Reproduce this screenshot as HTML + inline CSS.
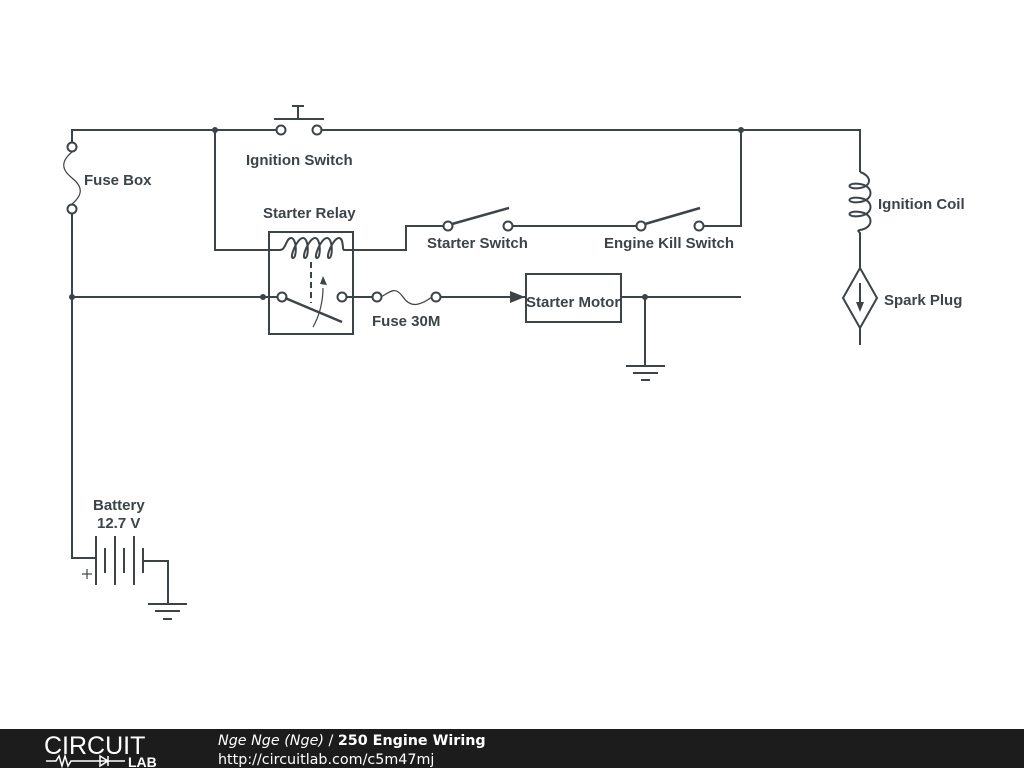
<!DOCTYPE html>
<html><head><meta charset="utf-8"><style>
html,body{margin:0;padding:0;background:#fff;}
svg{display:block;}
text{font-family:"Liberation Sans",sans-serif;font-weight:bold;fill:#3d4448;font-size:15px;}
</style></head><body>
<svg width="1024" height="768" viewBox="0 0 1024 768" xmlns="http://www.w3.org/2000/svg">
<g stroke="#3d4448" stroke-width="2" fill="none">
<polyline points="72,147 72,130 277,130"/>
<polyline points="321,130 860,130 860,172"/>
<circle cx="281" cy="130" r="4.5" fill="#fff"/><circle cx="317" cy="130" r="4.5" fill="#fff"/>
<line x1="274" y1="119" x2="324" y2="119"/><line x1="298" y1="106" x2="298" y2="119"/><line x1="292" y1="106" x2="304" y2="106"/>
<circle cx="72" cy="147" r="4.5" fill="#fff"/><circle cx="72" cy="209" r="4.5" fill="#fff"/>
<path d="M72,152 C60,162 62,170 72,178 C82,186 84,194 72,204" stroke-width="1.2"/>
<polyline points="72,214 72,558 95,558"/>
<polyline points="215,130 215,250 280,250"/>
<path d="M280,250 C286,250 286,238 291,238 C297,238 297,258 293,258 C289,258 297,238 303,238 C309,238 309,258 305,258 C301,258 309,238 315,238 C321,238 321,258 317,258 C313,258 321,238 327,238 C333,238 333,258 329,258 C325,258 333,238 339,238 C344,238 342,250 344,250"/>
<polyline points="344,250 406,250 406,226 444,226"/>
<circle cx="448" cy="226" r="4.5" fill="#fff"/><circle cx="508" cy="226" r="4.5" fill="#fff"/>
<line x1="452" y1="224" x2="509" y2="208" stroke-width="2.5"/>
<line x1="512" y1="226" x2="637" y2="226"/>
<circle cx="641" cy="226" r="4.5" fill="#fff"/><circle cx="699" cy="226" r="4.5" fill="#fff"/>
<line x1="645" y1="224" x2="700" y2="208" stroke-width="2.5"/>
<polyline points="703,226 741,226 741,130"/>
<rect x="269" y="232" width="84" height="102"/>
<line x1="311" y1="262" x2="311" y2="303" stroke-dasharray="6,4"/>
<line x1="72" y1="297" x2="278" y2="297"/>
<circle cx="282" cy="297" r="4.5" fill="#fff"/><circle cx="342" cy="297" r="4.5" fill="#fff"/>
<line x1="285" y1="298" x2="342" y2="322" stroke-width="2.5"/>
<path d="M313,327 C320,315 323,300 323,288" stroke-width="1.2"/>
<line x1="346" y1="297" x2="373" y2="297"/>
<circle cx="377" cy="297" r="4.5" fill="#fff"/><circle cx="436" cy="297" r="4.5" fill="#fff"/>
<path d="M381,297 C392,290 396,287 403,297 C410,307 418,307 432,297" stroke-width="1.2"/>
<line x1="440" y1="297" x2="526" y2="297"/>
<rect x="526" y="274" width="95" height="48"/>
<line x1="621" y1="297" x2="741" y2="297"/>
<polyline points="645,297 645,366"/>
<line x1="626" y1="366" x2="665" y2="366"/><line x1="633" y1="373" x2="658" y2="373"/><line x1="641" y1="380" x2="650" y2="380"/>
<path d="M860,172 C872,176 872,186 860,188 C846,190 846,182 860,184 C874,186 874,200 860,202 C846,204 846,196 860,198 C874,200 874,214 860,216 C846,218 846,210 860,212 C874,214 874,228 860,230 C856,231 860,232 860,233"/>
<line x1="860" y1="233" x2="860" y2="268"/>
<polygon points="860,268 877,298 860,328 843,298"/>
<line x1="860" y1="328" x2="860" y2="345"/>
<line x1="860" y1="283" x2="860" y2="305"/>
<line x1="96" y1="536" x2="96" y2="585"/><line x1="105" y1="548" x2="105" y2="573"/>
<line x1="115" y1="536" x2="115" y2="585"/><line x1="124" y1="548" x2="124" y2="573"/>
<line x1="134" y1="536" x2="134" y2="585"/><line x1="143" y1="548" x2="143" y2="573"/>
<polyline points="143,561 168,561 168,604"/>
<line x1="148" y1="604" x2="187" y2="604"/><line x1="155" y1="611" x2="180" y2="611"/><line x1="163" y1="619" x2="172" y2="619"/>
<line x1="82" y1="574" x2="92" y2="574" stroke-width="1.2"/><line x1="87" y1="569" x2="87" y2="579" stroke-width="1.2"/>
</g>
<g fill="#3d4448">
<circle cx="215" cy="130" r="3"/><circle cx="741" cy="130" r="3"/><circle cx="72" cy="297" r="3"/><circle cx="263" cy="297" r="3"/><circle cx="645" cy="297" r="3"/>
<polygon points="510,291 525,297 510,303"/>
<polygon points="320,284 323,276 327,285"/>
<polygon points="856,302 860,312 864,302"/>
</g>
<text x="246" y="165">Ignition Switch</text>
<text x="84" y="185">Fuse Box</text>
<text x="263" y="218">Starter Relay</text>
<text x="427" y="248">Starter Switch</text>
<text x="604" y="248">Engine Kill Switch</text>
<text x="878" y="209">Ignition Coil</text>
<text x="884" y="305">Spark Plug</text>
<text x="372" y="326">Fuse 30M</text>
<text x="526" y="307">Starter Motor</text>
<text x="93" y="510">Battery</text>
<text x="97" y="528">12.7 V</text>
<rect x="0" y="729" width="1024" height="39" fill="#1c1c1c"/>
<text x="44" y="754" style="font-weight:normal;fill:#fff;font-size:25px;letter-spacing:0px">CIRCUIT</text>
<text x="128" y="767" style="fill:#fff;font-size:14px">LAB</text>
<polyline points="46,761 56,761 59,756 62,766 65,756 68,766 71,761 100,761 100,756 108,761 100,766 100,761 108,761 108,756 108,766 108,761 125,761" stroke="#fff" stroke-width="1.5" fill="none"/>
<text x="218" y="745" style="fill:#fff;font-size:14.3px;font-family:'DejaVu Sans',sans-serif"><tspan font-style="italic" font-weight="normal">Nge Nge (Nge)</tspan><tspan font-weight="normal"> / </tspan>250 Engine Wiring</text>
<text x="218" y="764" style="fill:#fff;font-size:14.3px;font-weight:normal;font-family:'DejaVu Sans',sans-serif">http://circuitlab.com/c5m47mj</text>
</svg>
</body></html>
